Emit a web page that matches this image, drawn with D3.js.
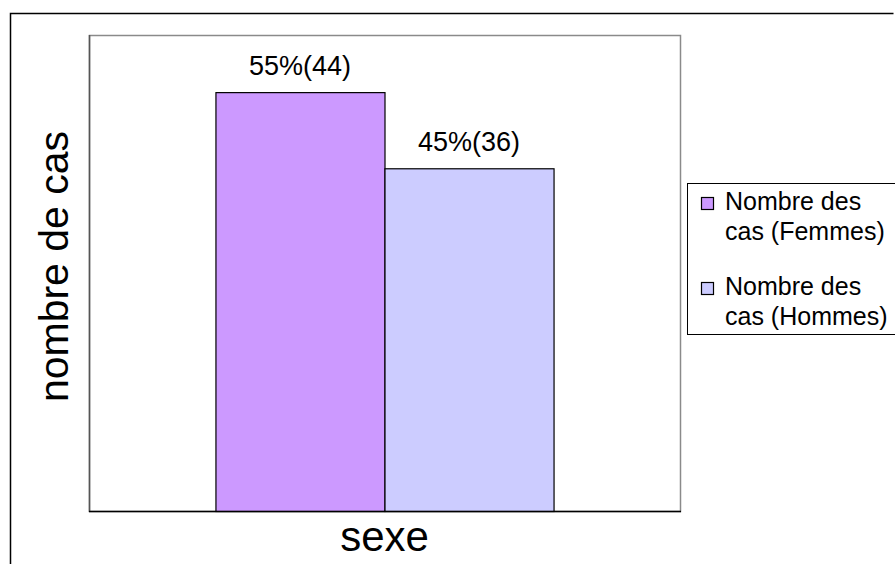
<!DOCTYPE html>
<html>
<head>
<meta charset="utf-8">
<script src="https://cdn.jsdelivr.net/npm/d3@7"></script>
<style>
  html, body { margin: 0; padding: 0; background: #fff; }
  svg { display: block; font-family: Arial, "Liberation Sans", sans-serif; }
</style>
</head>
<body>
<svg id="chart" width="895" height="564"></svg>
<script>
// Single category, two series (women / men)
const categories = ["sexe"];
const seriesNames = ["Nombre des cas (Femmes)", "Nombre des cas (Hommes)"];
const seriesValues = [44, 36];
const seriesColors = ["#CC99FF", "#CCCCFF"];
const legendLines = [["Nombre des", "cas (Femmes)"], ["Nombre des", "cas (Hommes)"]];
const yDomain = [0, 50];

const svg = d3.select("#chart");
const plot = { left: 89, right: 680, top: 35, bottom: 511 };

// Outer chart frame (top and left edges visible)
svg.append("path")
  .attr("d", "M10.5,600 V13.5 H893.5")
  .attr("fill", "none").attr("stroke", "#000").attr("stroke-width", 1.5);

// Plot area frame
svg.append("rect")
  .attr("x", plot.left + 0.5).attr("y", plot.top + 0.5)
  .attr("width", plot.right - plot.left).attr("height", plot.bottom - plot.top)
  .attr("fill", "#fff").attr("stroke", "#8a8a8a").attr("stroke-width", 1.5);

const y = d3.scaleLinear().domain(yDomain).range([plot.bottom, plot.top]);
const x0 = d3.scaleBand().domain(categories).range([plot.left, plot.right])
  .paddingInner(0).paddingOuter(0.374);
const x1 = d3.scaleBand().domain(seriesNames).range([0, x0.bandwidth()]);

const total = d3.sum(seriesValues);
const data = seriesNames.map((name, i) => ({
  name, value: seriesValues[i], color: seriesColors[i]
}));

const g = svg.append("g").attr("transform", `translate(${x0(categories[0])},0)`);

g.selectAll("rect.bar").data(data).join("rect")
  .attr("class", "bar")
  .attr("x", d => x1(d.name) + 0.5)
  .attr("y", d => y(d.value) + 0.5)
  .attr("width", x1.bandwidth())
  .attr("height", d => y(0) - y(d.value))
  .attr("fill", d => d.color)
  .attr("stroke", "#000").attr("stroke-width", 1.2);

g.selectAll("text.lbl").data(data).join("text")
  .attr("class", "lbl")
  .attr("x", d => x1(d.name) + x1.bandwidth() / 2)
  .attr("y", d => y(d.value) - 17)
  .attr("text-anchor", "middle")
  .attr("font-size", 27)
  .attr("fill", "#000")
  .text(d => `${Math.round(100 * d.value / total)}%(${d.value})`);

// Axis lines (left and bottom)
svg.append("line")
  .attr("x1", plot.left + 0.5).attr("x2", plot.left + 0.5)
  .attr("y1", plot.top).attr("y2", plot.bottom + 1)
  .attr("stroke", "#555").attr("stroke-width", 1.5);
svg.append("line")
  .attr("x1", plot.left).attr("x2", plot.right + 1)
  .attr("y1", plot.bottom + 0.5).attr("y2", plot.bottom + 0.5)
  .attr("stroke", "#000").attr("stroke-width", 1.5);

// Axis titles
svg.append("text")
  .attr("x", (plot.left + plot.right) / 2)
  .attr("y", 551)
  .attr("text-anchor", "middle")
  .attr("font-size", 42)
  .text("sexe");

svg.append("text")
  .attr("transform", `translate(68,${(126 + 407) / 2}) rotate(-90)`)
  .attr("text-anchor", "middle")
  .attr("font-size", 41)
  .text("nombre de cas");

// Legend
const legend = svg.append("g");
legend.append("rect")
  .attr("x", 687.5).attr("y", 183.5).attr("width", 260).attr("height", 151)
  .attr("fill", "#fff").attr("stroke", "#000").attr("stroke-width", 1);

const items = legend.selectAll("g.item").data(data).join("g")
  .attr("class", "item")
  .attr("transform", (d, i) => `translate(0,${210 + i * 85})`);

items.append("rect")
  .attr("x", 701.5).attr("y", -12.5).attr("width", 12).attr("height", 12)
  .attr("fill", d => d.color).attr("stroke", "#000").attr("stroke-width", 1.2);

items.append("text")
  .attr("x", 725).attr("y", 0)
  .attr("font-size", 25)
  .selectAll("tspan").data((d, i) => legendLines[i]).join("tspan")
  .attr("x", 725).attr("dy", (t, j) => j === 0 ? 0 : 30)
  .text(t => t);
</script>
</body>
</html>
